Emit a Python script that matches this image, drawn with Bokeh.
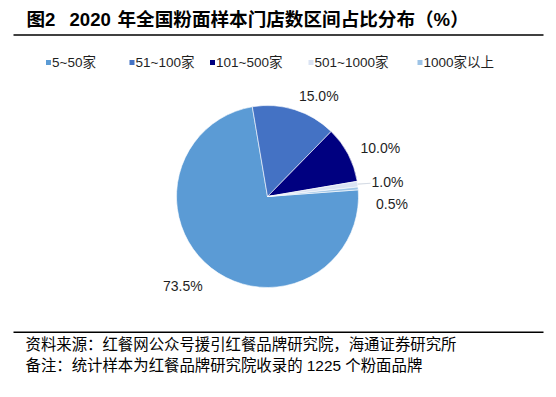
import numpy as np
from bokeh.plotting import figure
from bokeh.models import Range1d, ColumnDataSource
from bokeh.core.properties import value
from bokeh.embed import file_html
from bokeh.resources import INLINE

# ---- data ----
categories = ["5~50家", "51~100家", "101~500家", "501~1000家", "1000家以上"]
shares = [73.5, 15.0, 10.0, 1.0, 0.5]
labels = ["73.5%", "15.0%", "10.0%", "1.0%", "0.5%"]
title_parts = ["图2", "2020", "年全国粉面样本门店数区间占比分布（%）"]
source_text = "资料来源：红餐网公众号援引红餐品牌研究院，海通证券研究所"
remark_text = "备注：统计样本为红餐品牌研究院收录的 1225 个粉面品牌"

# ---- style ----
colors = ["#5B9BD5", "#4472C4", "#000080", "#DAE3F3", "#9DC3E6"]
FONT = "Liberation Sans, Noto Sans CJK SC"
W, H = 548, 389


def X(px):
    return px


def Y(py):
    return H - py


p = figure(width=W, height=H, x_range=Range1d(0, W), y_range=Range1d(0, H),
           output_backend="svg", toolbar_location=None, min_border=0,
           x_axis_location=None, y_axis_location=None, outline_line_color=None)
p.grid.visible = False

# ---- pie ----
cx, cy, r = X(267), Y(196), 91
start = np.deg2rad(4.2)
frac = np.array(shares) / sum(shares)
cum = np.cumsum(frac)
before = cum - frac
a_start = start - cum * 2 * np.pi
a_end = start - before * 2 * np.pi
src = ColumnDataSource(dict(s=a_start, e=a_end, c=colors))
p.wedge(x=cx, y=cy, radius=r, start_angle="s", end_angle="e", fill_color="c",
        line_color="white", line_width=0.6, source=src)

# ---- data labels ----
mid = start - (before + frac / 2) * 2 * np.pi
nudge_x = [0, 0, 0, 0, 4]
nudge_y = [-7, 0, 0, 0, -17]
lr = r + 14
lx = cx + lr * np.cos(mid) + np.array(nudge_x)
ly = cy + lr * np.sin(mid) + np.array(nudge_y)
align = ["left" if np.cos(m) >= 0 else "right" for m in mid]
lsrc = ColumnDataSource(dict(x=lx, y=ly, t=labels, a=align))
p.text(x="x", y="y", text="t", text_align="a", text_baseline="middle",
       text_font=value(FONT), text_font_size="14px", text_color="#1F1F1F", source=lsrc)

# leader line for the 1.0% slice
i = 3
p.segment(x0=[cx + r * np.cos(mid[i])], y0=[cy + r * np.sin(mid[i])],
          x1=[lx[i] - 1], y1=[ly[i] - 1], line_color="#D6DCE5", line_width=1.2)

# ---- legend ----
leg_x = [X(48), X(131.5), X(212), X(310.5), X(419.5)]
leg_y = [Y(62)] * len(categories)
p.scatter(x=leg_x, y=leg_y, marker="square", size=5, fill_color=colors, line_color=None)
p.text(x=[v + 3.5 for v in leg_x], y=leg_y, text=categories, text_baseline="middle",
       text_font=value(FONT), text_font_size="13.5px", text_color="#1F1F1F")

# ---- title & rules ----
p.text(x=[X(26), X(69), X(117)], y=[Y(19)] * 3, text=title_parts, text_baseline="middle",
       text_font=value(FONT), text_font_size="18.6px", text_font_style="bold", text_color="black")
p.segment(x0=[X(13), X(13)], y0=[Y(34.5), Y(331.7)], x1=[X(543), X(543)], y1=[Y(34.5), Y(331.7)],
          line_color="black", line_width=1.5)

# ---- source notes ----
p.text(x=[X(25), X(25)], y=[Y(344), Y(364.5)], text=[source_text, remark_text], text_baseline="middle",
       text_font=value(FONT), text_font_size="15.4px", text_color="black")

open("out.html", "w").write(file_html(p, INLINE))
